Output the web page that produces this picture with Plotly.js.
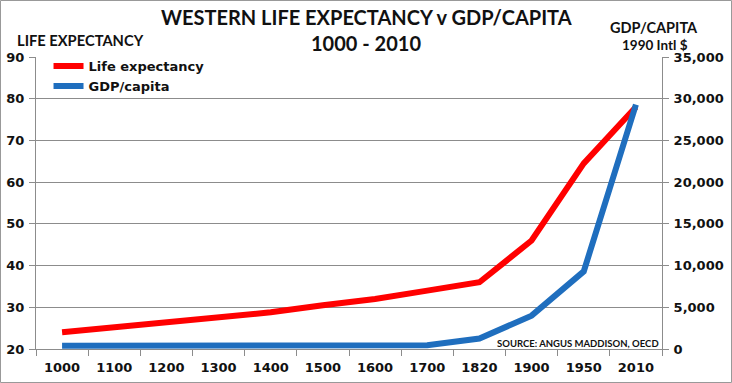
<!DOCTYPE html>
<html><head><meta charset="utf-8">
<script src="https://cdn.plot.ly/plotly-3.0.1.min.js"></script>
<style>body{margin:0;padding:0;background:#fff}#chart{width:732px;height:383px}</style>
</head><body><div id="chart"></div>
<script>
const years = ['1000','1100','1200','1300','1400','1500','1600','1700','1820','1900','1950','2010'];
const lifeExpectancy = [24, 25.2, 26.3, 27.5, 28.8, 30.5, 32, 34, 36, 46, 64.5, 78];
const gdpPerCapita = [400, 400, 400, 400, 400, 400, 400, 450, 1250, 4000, 9300, 29300];
const leftTicks = [20,30,40,50,60,70,80,90];
const rightTicks = [0,5000,10000,15000,20000,25000,30000,35000];

const tickFont = {family: 'DejaVu Sans', size: 13, color: '#111', weight: 'bold'};
const grey = '#8c8c8c';
const W = 732, H = 383, L = 36, R = 70, T = 57, B = 34;
const pw = W - L - R, ph = H - T - B;

const traces = [
  {x: years, y: lifeExpectancy, name: 'Life expectancy', type: 'scatter', mode: 'lines',
   line: {color: '#FF0000', width: 6}, yaxis: 'y'},
  {x: years, y: gdpPerCapita, name: 'GDP/capita', type: 'scatter', mode: 'lines',
   line: {color: '#1F6EBE', width: 6}, yaxis: 'y2'}
];

const layout = {
  width: W, height: H,
  margin: {l: L, r: R, t: T, b: B, pad: 0},
  paper_bgcolor: '#fff', plot_bgcolor: '#fff',
  showlegend: true,
  legend: {x: 0.02, y: 1.02, xanchor: 'left', yanchor: 'top', bgcolor: 'rgba(0,0,0,0)',
           font: {family: 'DejaVu Sans', size: 13, color: '#111', weight: 'bold'},
           itemwidth: 30, tracegroupgap: 0},
  xaxis: {type: 'category', range: [-0.5, years.length - 0.5], tickson: 'boundaries',
          ticks: 'outside', ticklen: 6, tickcolor: grey, ticklabelstandoff: 6,
          showline: true, linecolor: grey, linewidth: 1, showgrid: false,
          tickfont: tickFont},
  yaxis: {range: [20, 90], tickvals: leftTicks, ticks: 'outside', ticklen: 6, tickcolor: grey,
          showline: true, linecolor: grey, showgrid: true, gridcolor: grey, gridwidth: 1,
          zeroline: false, tickfont: tickFont, ticklabelstandoff: 2},
  yaxis2: {range: [0, 35000], tickvals: rightTicks, overlaying: 'y', side: 'right',
           ticks: 'outside', ticklen: 6, tickcolor: grey, showline: true, linecolor: grey,
           showgrid: false, zeroline: false, tickformat: ',d', tickfont: tickFont,
           ticklabelstandoff: 2},
  annotations: [
    {text: 'WESTERN LIFE EXPECTANCY v GDP/CAPITA', xref: 'paper', yref: 'paper',
     x: (366 - L) / pw, y: (H - 17 - B) / ph, showarrow: false, xanchor: 'center', yanchor: 'middle',
     font: {family: 'Lato', size: 20, color: '#111', weight: 'bold'}},
    {text: '1000 - 2010', xref: 'paper', yref: 'paper',
     x: (366 - L) / pw, y: (H - 43 - B) / ph, showarrow: false, xanchor: 'center', yanchor: 'middle',
     font: {family: 'Lato', size: 20, color: '#111', weight: 'bold'}},
    {text: 'LIFE EXPECTANCY', xref: 'paper', yref: 'paper',
     x: (15 - L) / pw, y: (H - 40 - B) / ph, showarrow: false, xanchor: 'left', yanchor: 'middle',
     font: {family: 'Lato', size: 14.7, color: '#111', weight: 'bold'}},
    {text: 'GDP/CAPITA', xref: 'paper', yref: 'paper',
     x: (654 - L) / pw, y: (H - 28 - B) / ph, showarrow: false, xanchor: 'center', yanchor: 'middle',
     font: {family: 'Lato', size: 14.5, color: '#111', weight: 'bold'}},
    {text: '1990 Intl $', xref: 'paper', yref: 'paper',
     x: (655 - L) / pw, y: (H - 45 - B) / ph, showarrow: false, xanchor: 'center', yanchor: 'middle',
     font: {family: 'Lato', size: 13.5, color: '#111', weight: 'bold'}},
    {text: 'SOURCE: ANGUS MADDISON, OECD', xref: 'paper', yref: 'paper',
     x: (661 - L) / pw, y: (H - 343 - B) / ph, showarrow: false, xanchor: 'right', yanchor: 'middle',
     font: {family: 'Lato', size: 9.5, color: '#111', weight: 'bold'}}
  ],
  shapes: [
    {type: 'rect', xref: 'paper', yref: 'paper', x0: (0.5 - L) / pw, x1: (W - 0.5 - L) / pw,
     y0: (0.5 - B) / ph, y1: (H - 0.5 - B) / ph, line: {color: '#999', width: 1}, layer: 'below'}
  ]
};

Plotly.newPlot('chart', traces, layout, {displayModeBar: false, staticPlot: true});
</script></body></html>
